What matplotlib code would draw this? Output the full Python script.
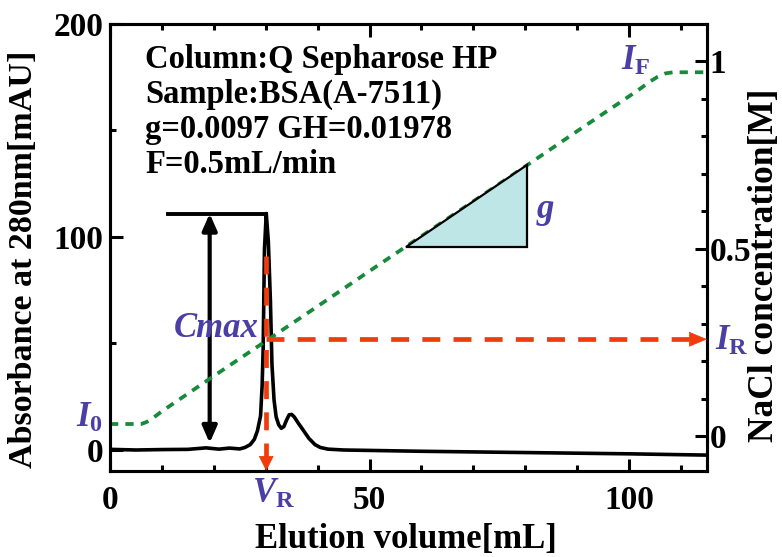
import matplotlib
matplotlib.use('Agg')
import matplotlib.pyplot as plt
from matplotlib.patches import Polygon

plt.rcParams['font.family'] = ['Liberation Serif', 'DejaVu Serif']
plt.rcParams['font.weight'] = 'bold'
plt.rcParams['mathtext.fontset'] = 'custom'
plt.rcParams['mathtext.rm'] = 'Liberation Serif:bold'
plt.rcParams['mathtext.it'] = 'Liberation Serif:italic:bold'
plt.rcParams['mathtext.bf'] = 'Liberation Serif:bold'

# ---------------- data ----------------
elution_ml = [0, 5, 10, 15, 18.5, 21, 23, 25, 26, 27, 27.8, 28.4, 29.0, 29.3,
              29.5, 29.75, 30.1, 30.5, 30.9, 31.2, 31.6, 32.0, 32.5, 33.0,
              33.5, 34.0, 34.5, 35.0, 35.5, 36.3, 37.2, 38.3, 39.5, 40.5,
              42, 45, 50, 60, 70, 80, 90, 100, 110, 115]
absorbance = [0.3, 0.0, 0.2, 0.3, 1.0, 0.4, 0.9, 0.5, 1.2, 2.5, 5, 9, 16, 30,
              47, 94, 111, 98, 70, 40, 23.5, 15.6, 11.8, 10.2,
              11, 14, 16.5, 16.7, 15.5, 12.5, 9.4, 5.5, 2.5, 1.2,
              0.4, 0.0, -0.2, -0.6, -0.9, -1.2, -1.5, -1.8, -2.2, -2.4]

nacl_ml = [0, 6.0, 7.0, 8.0, 10, 20, 30, 40, 50, 60, 70, 80, 90, 100,
           102, 104, 105.5, 107, 108.5, 115]
nacl_m = [0.032, 0.032, 0.037, 0.045, 0.066, 0.160, 0.253, 0.346, 0.440,
          0.533, 0.626, 0.719, 0.813, 0.906, 0.925, 0.945, 0.958, 0.967,
          0.970, 0.970]

v_r = 30.1          # retention volume [mL]
c_max = 111         # peak height [mAU]
i_r = 0.258         # NaCl at retention [M]
cmax_start = 11.2   # start of Cmax level line [mL]
cmax_arrow_x = 19.2
cmax_base = 3.3
vr_line_top = 91

tri_x = [57.1, 80.4, 80.4]
tri_y = [0.504, 0.504, 0.723]

x_major = [0, 50, 100]
x_minor = [10, 20, 30, 40, 60, 70, 80, 90, 110]
y_major = [0, 100, 200]
y_minor = [50, 150]
y2_major = [0, 0.5, 1]
y2_labels = ['0', '0.5', '1']
y2_minor = [0.1, 0.2, 0.3, 0.4, 0.6, 0.7, 0.8, 0.9]

info_lines = ['Column:Q Sepharose HP', 'Sample:BSA(A-7511)',
              'g=0.0097 GH=0.01978', 'F=0.5mL/min']

# ---------------- style ----------------
W, H = 782, 557
PURPLE = '#4b3fa6'
RED = '#f03c0c'
GREEN = '#178a3c'


def px(x, y):
    return (x / W, 1 - y / H)


fig = plt.figure(figsize=(W / 100, H / 100), dpi=100)
ax = fig.add_axes([110 / W, 1 - 471 / H, (707 - 110) / W, (471 - 24) / H])
ax2 = ax.twinx()

ax.set_xlim(0, 115)
ax.set_ylim(-9.86, 200)
ax2.set_ylim(-0.0933, 1.0987)

for a in (ax, ax2):
    for s in a.spines.values():
        s.set_linewidth(2.2)

ax.set_xticks(x_major)
ax.set_xticks(x_minor, minor=True)
ax.set_yticks(y_major)
ax.set_yticks(y_minor, minor=True)
ax2.set_yticks(y2_major)
ax2.set_yticklabels(y2_labels)
ax2.set_yticks(y2_minor, minor=True)

ax.tick_params(which='both', direction='in', top=True, right=False,
               width=2.2)
ax.tick_params(which='major', length=9)
ax.tick_params(which='minor', length=4.5)
ax.tick_params(axis='x', labelsize=24, pad=10)
ax.tick_params(axis='y', labelsize=24, pad=5)
ax2.tick_params(which='both', direction='in', width=2.2, labelsize=24, pad=2)
ax2.tick_params(which='major', length=9)
ax2.tick_params(which='minor', length=4.5)
for lab in ax.get_xticklabels() + ax.get_yticklabels() + ax2.get_yticklabels():
    lab.set_fontweight('bold')

# absorbance curve
ax.plot(elution_ml, absorbance, color='black', lw=2.6, zorder=3,
        solid_joinstyle='round')

# Cmax level line and double arrow
ax.plot([cmax_start, v_r], [c_max, c_max], color='black', lw=2.8, zorder=4)
ax.annotate('', xy=(cmax_arrow_x, c_max), xytext=(cmax_arrow_x, cmax_base),
            arrowprops=dict(arrowstyle='<|-|>,head_length=0.5,head_width=0.22',
                            mutation_scale=20, color='black', lw=3,
                            shrinkA=0, shrinkB=0), zorder=4)

# V_R vertical red dashed arrow
ax.plot([v_r, v_r], [vr_line_top, -5], color=RED, lw=3.4,
        dashes=(3.8, 2.8), zorder=5)
ax.annotate('', xy=(v_r, -9.86), xytext=(0, 10), textcoords='offset points',
            arrowprops=dict(arrowstyle='-|>,head_length=0.5,head_width=0.25',
                            mutation_scale=20, color=RED, lw=0.5,
                            shrinkA=0, shrinkB=0), zorder=5,
            annotation_clip=False)

# NaCl gradient
ax2.plot(nacl_ml, nacl_m, color=GREEN, lw=2.7, dashes=(2.2, 1.9), zorder=2)

# slope triangle
ax2.add_patch(Polygon(list(zip(tri_x, tri_y)), closed=True,
                      facecolor='#bfe6e7', edgecolor='black', lw=1.6,
                      zorder=3))

# I_R horizontal red dashed arrow
ax2.plot([v_r, 111.5], [i_r, i_r], color=RED, lw=3.4, dashes=(3.8, 2.8),
         zorder=5)
ax2.annotate('', xy=(115, i_r), xytext=(-12, 0), textcoords='offset points',
             arrowprops=dict(arrowstyle='-|>,head_length=0.6,head_width=0.25',
                             mutation_scale=20, color=RED, lw=0.5,
                             shrinkA=0, shrinkB=0), zorder=5,
             annotation_clip=False)

# info text block
for i, line in enumerate(info_lines):
    fig.text(*px(145, 68 + 35 * i), line, fontsize=23.5, fontweight='bold',
             ha='left', va='baseline')

# purple annotation labels
fig.text(*px(174, 337), 'Cmax', fontsize=25, fontweight='bold',
         fontstyle='italic', color=PURPLE, ha='left', va='baseline')
fig.text(*px(252, 503), r'$\mathit{V}_{\mathrm{R}}$', fontsize=25,
         color=PURPLE, ha='left', va='baseline')
fig.text(*px(715, 350), r'$\mathit{I}_{\mathrm{R}}$', fontsize=25,
         color=PURPLE, ha='left', va='baseline')
fig.text(*px(76, 427), r'$\mathit{I}_{0}$', fontsize=25,
         color=PURPLE, ha='left', va='baseline')
fig.text(*px(621, 70), r'$\mathit{I}_{\mathrm{F}}$', fontsize=25,
         color=PURPLE, ha='left', va='baseline')
fig.text(*px(537, 218), 'g', fontsize=25, fontweight='bold',
         fontstyle='italic', color=PURPLE, ha='left', va='baseline')

# axis labels
fig.text(*px(406, 548), 'Elution volume[mL]', fontsize=25, fontweight='bold',
         ha='center', va='baseline')
fig.text(*px(24, 259), 'Absorbance at 280nm[mAU]', fontsize=24.5,
         fontweight='bold', rotation=90, ha='center', va='center')
fig.text(*px(765, 265), 'NaCl concentration[M]', fontsize=25.5,
         fontweight='bold', rotation=90, ha='center', va='center')

fig.savefig('out.png', dpi=100)
